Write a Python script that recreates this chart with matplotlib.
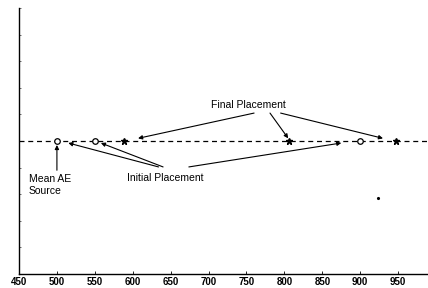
import numpy as np
import matplotlib.pyplot as plt

plt.rcParams['font.family'] = ['Liberation Sans', 'DejaVu Sans']

# data
initial_x = [500, 550, 900]
final_x = [588, 806, 947]
line_x = [450, 1000]
stray_x = [923]
stray_y = [-0.43]
xticks = [450, 500, 550, 600, 650, 700, 750, 800, 850, 900, 950]

fig = plt.figure(figsize=(4.28, 2.88), dpi=100)
ax = fig.add_axes([19 / 428, 14 / 288, 1 - 19 / 428 + 0.01, 266 / 288])

ax.plot(line_x, [0, 0], 'k--', lw=0.9, dashes=(4, 3))
ax.plot(initial_x, np.zeros(len(initial_x)), 'o', mfc='white', mec='k', ms=4, mew=0.9)
ax.plot(final_x, np.zeros(len(final_x)), '*', color='k', ms=4.5)
ax.plot(stray_x, stray_y, '.', color='k', ms=2.5)

ap = dict(arrowstyle='-|>', color='k', lw=0.8, mutation_scale=6, shrinkA=0, shrinkB=0)

ax.text(753, 0.27, 'Final Placement', ha='center', va='center', fontsize=7.5)
for sx, ex in [(760, 607), (781, 805), (795, 930)]:
    ax.annotate('', xy=(ex, 0.02), xytext=(sx, 0.21), arrowprops=ap)

ax.text(643, -0.28, 'Initial Placement', ha='center', va='center', fontsize=7.5)
for sx, ex in [(634, 515), (640, 558), (674, 875)]:
    ax.annotate('', xy=(ex, -0.015), xytext=(sx, -0.195), arrowprops=ap)

ax.text(463, -0.33, 'Mean AE\nSource', ha='left', va='center', fontsize=7.5, linespacing=1.2)
ax.annotate('', xy=(500, -0.03), xytext=(500, -0.22), arrowprops=ap)

ax.set_xlim(450, 995)
ax.set_ylim(-1, 1)
ax.set_xticks(xticks)
ax.set_xticklabels([str(t) for t in xticks], fontsize=7, fontweight='bold')
ax.set_yticks(np.linspace(-1, 1, 11))
ax.set_yticklabels([])
ax.tick_params(axis='x', direction='in', length=2, width=0.6, pad=2)
ax.tick_params(axis='y', direction='in', length=1.2, width=0.4)
for s in ['top', 'right']:
    ax.spines[s].set_visible(False)
ax.spines['left'].set_linewidth(1)
ax.spines['bottom'].set_linewidth(1)

fig.savefig('out.png', dpi=100)
